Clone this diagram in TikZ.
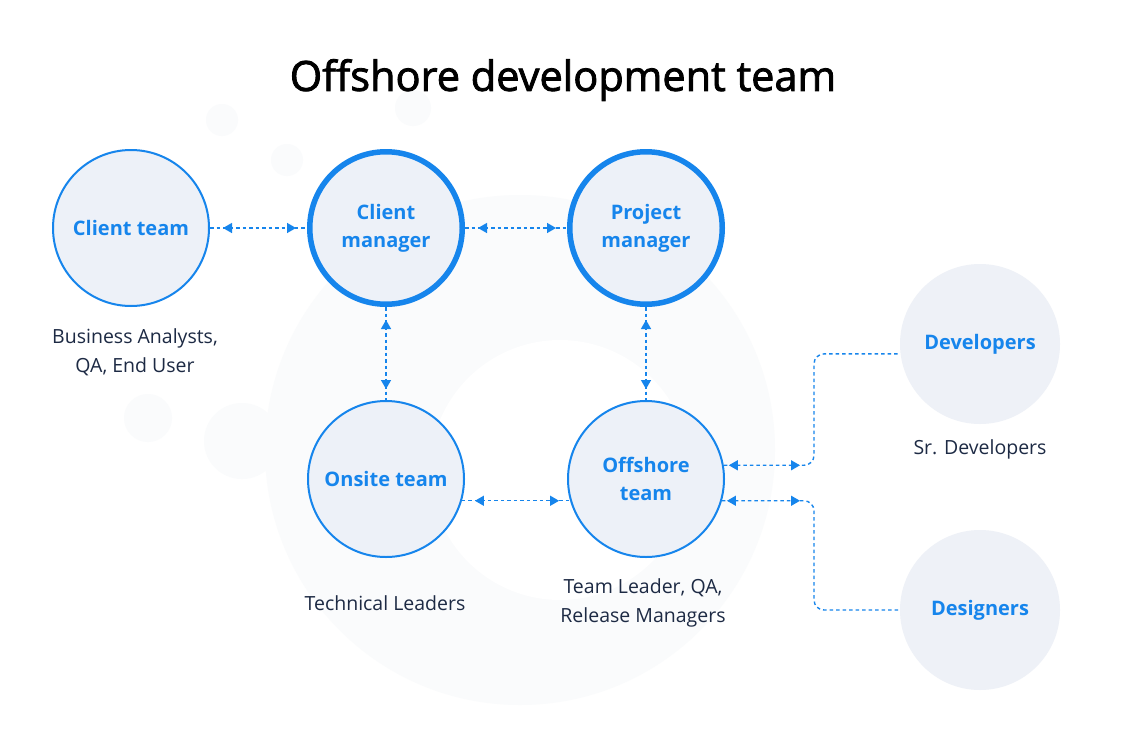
\documentclass[tikz,border=0pt]{standalone}
\usepackage{fontspec}
\setmainfont{Open Sans}
\IfFontExistsTF{Open Sans SemiBold}
  {\newfontfamily\titlefont{Open Sans SemiBold}}
  {\newfontfamily\titlefont[FakeBold=2]{Open Sans}}
\usetikzlibrary{
  arrows.meta,
  positioning,
}
\definecolor{teamblue}{HTML}{1685EC}
\definecolor{teamfill}{HTML}{EDF1F8}
\definecolor{stafffill}{HTML}{EEF1F7}
\definecolor{notetext}{HTML}{1D2A44}
\definecolor{haze}{HTML}{FAFBFC}
\tikzset{
  team/.style={circle, draw=teamblue, line width=2pt, fill=teamfill,
    minimum size=156pt, inner sep=0pt, align=center, text=teamblue,
    font=\fontsize{20}{28}\selectfont\bfseries},
  lead/.style={team, line width=5.5pt, minimum size=152.5pt},
  staff/.style={team, draw=none, fill=stafffill, minimum size=160pt},
  note/.style={align=center, text=notetext, font=\fontsize{19.5}{29}\selectfont},
  link/.style={draw=teamblue, line width=1.4pt, dash pattern=on 3.5pt off 3pt},
  heads/.style={draw=teamblue, line width=1.4pt, dash pattern=on 0pt off 900pt,
    {Triangle[length=9pt,width=10pt]}-{Triangle[length=9pt,width=10pt]}},
}

\begin{document}
\begin{tikzpicture}[x=1pt,y=-1pt]
\useasboundingbox (0,0) rectangle (1126,736);
\fill[white] (0,0) rectangle (1126,736);
% faint backdrop
\fill[haze] (520,450) circle[radius=255];
\fill[white] (560,470) circle[radius=130];
\foreach \bx/\by/\br in {222/120/16, 287/160/16, 413/108/18, 148/418/24, 242/441/38}
  \fill[haze] (\bx,\by) circle[radius=\br];

\node[font=\titlefont\fontsize{41.5}{48}\selectfont, text=black] (title) at (563,80) {Offshore development team};

\node[team] (clientteam) at (131,228) {Client team};
\node[lead] (clientmgr) at (386,228) {Client\\manager};
\node[lead] (projectmgr) at (646,228) {Project\\manager};
\node[team] (onsite) at (386,479) {Onsite team};
\node[team] (offshore) at (646,479) {Offshore\\team};
\node[staff] (devs) at (980,344) {Developers};
\node[staff] (designers) at (980,610) {Designers};

\node[note] (clientnote) at (135,352) {Business Analysts,\\QA, End User};
\node[note] (onsitenote) at (385,603) {Technical Leaders};
\node[note] (offshorenote) at (643,603) {Team Leader, QA,\\Release Managers};
\node[note] (devsnote) at (980,449) {Sr. Developers};

% two way links
\foreach \from/\to in {clientteam/clientmgr, clientmgr/projectmgr, clientmgr/onsite, projectmgr/offshore, onsite.-16/offshore.196}
{
  \draw[link] (\from) -- (\to);
  \draw[heads, shorten <=13pt, shorten >=11pt] (\from) -- (\to);
}

\coordinate (split) at (814,479);
\draw[link, rounded corners=10pt] (offshore.10) -| (split |- devs.187) -- (devs.187);
\draw[heads, shorten <=5pt, shorten >=14pt] (offshore.10) -- (split |- offshore.10);
\draw[link, rounded corners=10pt] (offshore.-16) -| (split |- designers.west) -- (designers.west);
\draw[heads, shorten <=5pt, shorten >=14pt] (offshore.-16) -- (split |- offshore.-16);
\end{tikzpicture}
\end{document}
